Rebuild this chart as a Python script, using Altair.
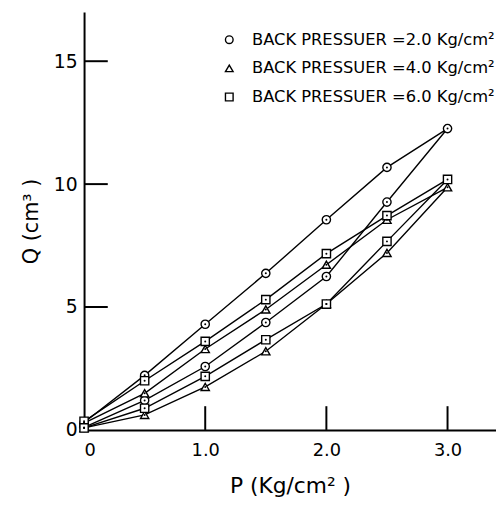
import altair as alt
import pandas as pd

# ---- data ----
P_up = [0.0, 0.5, 1.0, 1.5, 2.0, 2.5, 3.0]
P_down = [3.0, 2.5, 2.0, 1.5, 1.0, 0.5, 0.0]
series = ["BACK PRESSUER =2.0 Kg/cm²", "BACK PRESSUER =4.0 Kg/cm²", "BACK PRESSUER =6.0 Kg/cm²"]
shapes = ["circle", "triangle-up", "square"]
Q_up = [
    [0.30, 2.22, 4.30, 6.37, 8.55, 10.68, 12.26],
    [0.28, 1.49, 3.29, 4.90, 6.72, 8.55, 9.87],
    [0.35, 2.00, 3.60, 5.30, 7.17, 8.72, 10.19],
]
Q_down = [
    [12.26, 9.27, 6.24, 4.37, 2.58, 1.20, 0.10],
    [9.87, 7.20, 5.12, 3.20, 1.75, 0.61, 0.08],
    [10.19, 7.67, 5.12, 3.67, 2.18, 0.88, 0.08],
]
y_ticks = [0, 5, 10, 15]
x_ticks = [0, 1.0, 2.0, 3.0]
y_inner_ticks = [5, 10, 15]
x_inner_ticks = [1.0, 2.0, 3.0]

rows = []
for s, up, down in zip(series, Q_up, Q_down):
    seq = 0
    for p, q in zip(P_up, up):
        rows.append({"series": s, "P": p, "Q": q, "seq": seq})
        seq += 1
    for p, q in zip(P_down[1:], down[1:]):
        rows.append({"series": s, "P": p, "Q": q, "seq": seq})
        seq += 1
df = pd.DataFrame(rows)

FONT = "DejaVu Sans"
W, H = 417, 423

xscale = alt.Scale(domain=[0, 3.4], nice=False, zero=False)
yscale = alt.Scale(domain=[0, 17], nice=False, zero=False)

x = alt.X("P:Q", scale=xscale,
          axis=alt.Axis(title="P  (Kg/cm² )", values=x_ticks, ticks=False,
                        labelExpr="datum.value == 0 ? '0' : format(datum.value, '.1f')",
                        labelFontSize=18, labelPadding=12, titleFontSize=22,
                        titlePadding=16, grid=False, domainWidth=2))
y = alt.Y("Q:Q", scale=yscale,
          axis=alt.Axis(title="Q  (cm³ )", values=y_ticks, ticks=False,
                        labelFontSize=19, labelPadding=7, titleFontSize=21,
                        titlePadding=12, grid=False, domainWidth=2))

shape_scale = alt.Scale(domain=series, range=shapes)

lines = alt.Chart(df).mark_line(color="black", strokeWidth=1.4).encode(
    x=x, y=y, detail="series:N", order="seq:Q")

points = alt.Chart(df).mark_point(filled=True, color="white", stroke="black",
                                  strokeWidth=1.4, size=70, opacity=1).encode(
    x="P:Q", y="Q:Q", shape=alt.Shape("series:N", scale=shape_scale, legend=None))
dots = alt.Chart(df).mark_point(filled=True, color="black", size=4, opacity=1,
                                shape="circle").encode(x="P:Q", y="Q:Q")

yt = alt.Chart(pd.DataFrame({"v": y_inner_ticks})).mark_rule(
    color="black", strokeWidth=2).encode(y="v:Q", x=alt.value(0), x2=alt.value(24))
xt = alt.Chart(pd.DataFrame({"v": x_inner_ticks})).mark_rule(
    color="black", strokeWidth=2).encode(x="v:Q", y=alt.value(H), y2=alt.value(H - 24))

# manual legend (layout positions in pixels)
legend_layers = []
for i, (s, shp) in enumerate(zip(series, shapes)):
    ld = pd.DataFrame({"label": [s]})
    ypos = 28 + 29 * i
    legend_layers.append(
        alt.Chart(ld).mark_point(shape=shp, filled=True, color="white", stroke="black",
                                 strokeWidth=1.4, size=60, opacity=1).encode(
            x=alt.value(147), y=alt.value(ypos)))
    legend_layers.append(
        alt.Chart(ld).mark_text(align="left", baseline="middle", fontSize=16.5,
                                font=FONT, color="black").encode(
            text="label:N", x=alt.value(170), y=alt.value(ypos)))

chart = alt.layer(lines, yt, xt, points, dots, *legend_layers).properties(
    width=W, height=H,
    autosize=alt.AutoSizeParams(type="none"),
    padding={"left": 77, "top": 1, "right": 0, "bottom": 80},
    background="white",
).configure_view(stroke=None).configure_axis(
    domainColor="black", labelColor="black", titleColor="black",
    labelFont=FONT, titleFont=FONT, titleFontWeight="normal",
)

chart.save("out.html", embed_options={"renderer": "svg", "actions": False})
